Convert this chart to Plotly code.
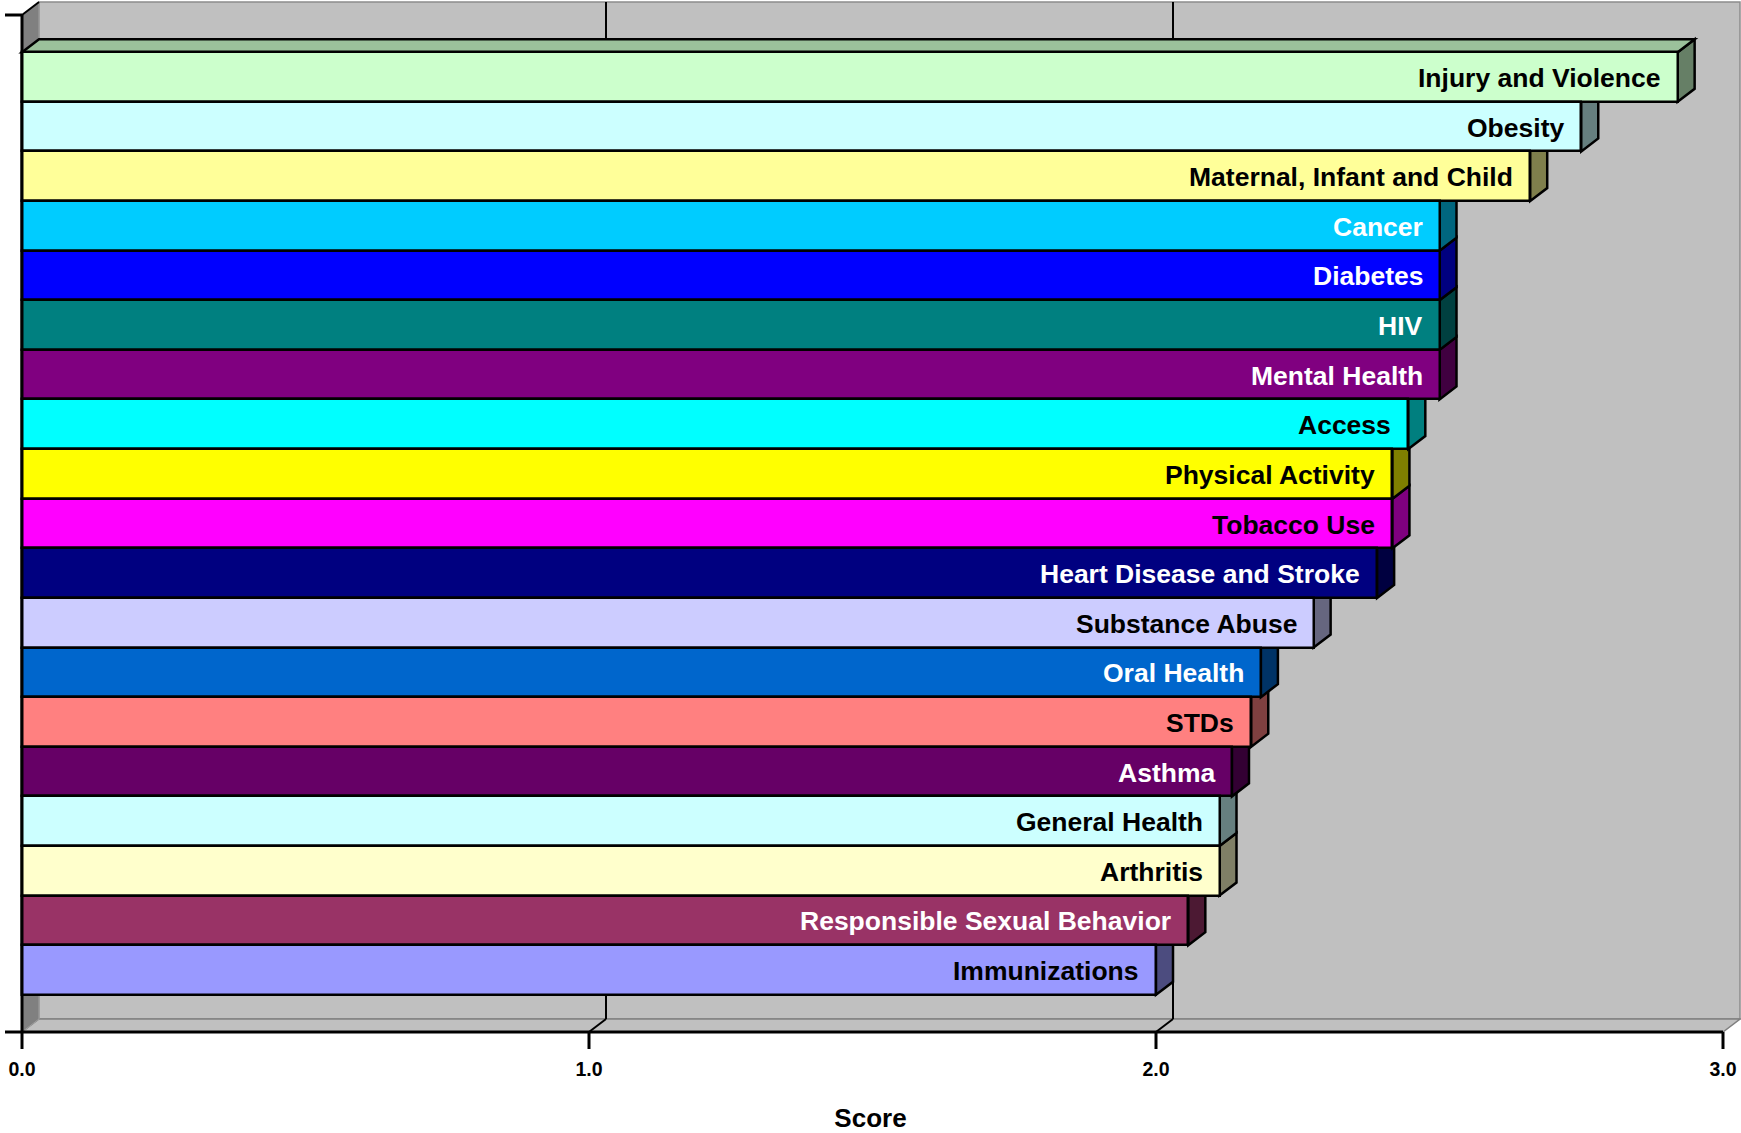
import plotly.graph_objects as go

# ---------------- data ----------------
categories = [
    "Injury and Violence", "Obesity", "Maternal, Infant and Child", "Cancer",
    "Diabetes", "HIV", "Mental Health", "Access", "Physical Activity",
    "Tobacco Use", "Heart Disease and Stroke", "Substance Abuse", "Oral Health",
    "STDs", "Asthma", "General Health", "Arthritis",
    "Responsible Sexual Behavior", "Immunizations",
]
scores = [2.92, 2.75, 2.66, 2.50, 2.50, 2.50, 2.50, 2.445, 2.417, 2.417,
          2.39, 2.278, 2.185, 2.168, 2.134, 2.112, 2.112, 2.057, 2.00]
bar_colors = ["#CCFFCC", "#CCFFFF", "#FFFF99", "#00CCFF", "#0000FF", "#008080",
              "#800080", "#00FFFF", "#FFFF00", "#FF00FF", "#000080", "#CCCCFF",
              "#0066CC", "#FF8080", "#660066", "#CCFFFF", "#FFFFCC", "#993366",
              "#9999FF"]
label_colors = ["black", "black", "black", "white", "white", "white", "white",
                "black", "black", "black", "white", "black", "white", "black",
                "white", "black", "black", "white", "black"]
x_ticks = [0, 1, 2, 3]
x_title = "Score"

# ---------------- geometry / style ----------------
W, H = 1741, 1133
FONT = "Liberation Sans, Arial, sans-serif"
LEFT_PAD, RIGHT_PAD = 22, 18       # px outside the front box
TOP_PAD, BOT_PAD = 15, 18
PLOT_H = 1050
DEPTH_X, DEPTH_Y = 17, 13          # 3-D depth offset in px
XMAX_DATA = 3.0
GAP_UNITS = 0.75                   # empty space above/below bars (category units)

n = len(categories)
ux = (W - LEFT_PAD - RIGHT_PAD) / XMAX_DATA
span_y = n + 2 * GAP_UNITS
uy = (PLOT_H - TOP_PAD - BOT_PAD) / span_y
dxu = DEPTH_X / ux
dyu = DEPTH_Y / uy
y_front_top = -0.5 - GAP_UNITS
y_front_bot = n - 0.5 + GAP_UNITS
x_range = [-LEFT_PAD / ux, XMAX_DATA + RIGHT_PAD / ux]
y_range = [y_front_bot + BOT_PAD / uy, y_front_top - TOP_PAD / uy]


def shade(hexcol, f):
    h = hexcol.lstrip("#")
    r, g, b = (int(h[i:i + 2], 16) for i in (0, 2, 4))
    return "#%02X%02X%02X" % (int(r * f), int(g * f), int(b * f))


def poly(pts):
    return "M " + " L ".join(f"{x},{y}" for x, y in pts) + " Z"


shapes = []
# back wall
shapes.append(dict(type="rect", xref="x", yref="y", layer="below",
                   x0=dxu, x1=XMAX_DATA + dxu, y0=y_front_top - dyu, y1=y_front_bot - dyu,
                   fillcolor="#C0C0C0", line=dict(color="#8C8C8C", width=1.5)))
# floor
shapes.append(dict(type="path", xref="x", yref="y", layer="below",
                   path=poly([(0, y_front_bot), (dxu, y_front_bot - dyu),
                              (XMAX_DATA + dxu, y_front_bot - dyu), (XMAX_DATA, y_front_bot)]),
                   fillcolor="#C0C0C0", line=dict(color="#808080", width=1.5)))
# gridlines on wall and floor
for t in x_ticks[1:-1]:
    shapes.append(dict(type="line", xref="x", yref="y", layer="below",
                       x0=t + dxu, x1=t + dxu, y0=y_front_top - dyu, y1=y_front_bot - dyu,
                       line=dict(color="black", width=2)))
    shapes.append(dict(type="line", xref="x", yref="y", layer="below",
                       x0=t + dxu, x1=t, y0=y_front_bot - dyu, y1=y_front_bot,
                       line=dict(color="black", width=2)))
# left wall
shapes.append(dict(type="path", xref="x", yref="y", layer="below",
                   path=poly([(0, y_front_top), (dxu, y_front_top - dyu),
                              (dxu, y_front_bot - dyu), (0, y_front_bot)]),
                   fillcolor="#808080", line=dict(color="#A0A0A0", width=1)))
shapes.append(dict(type="line", xref="x", yref="y", layer="below",
                   x0=0, x1=dxu, y0=y_front_top, y1=y_front_top - dyu,
                   line=dict(color="black", width=2)))

# side faces of bars (bottom to top) and top face of first bar
for i in range(n - 1, -1, -1):
    v = scores[i]
    shapes.append(dict(type="path", xref="x", yref="y", layer="below",
                       path=poly([(v, i - 0.5), (v + dxu, i - 0.5 - dyu),
                                  (v + dxu, i + 0.5 - dyu), (v, i + 0.5)]),
                       fillcolor=shade(bar_colors[i], 0.5),
                       line=dict(color="black", width=2.5)))
shapes.append(dict(type="path", xref="x", yref="y", layer="below",
                   path=poly([(0, -0.5), (dxu, -0.5 - dyu),
                              (scores[0] + dxu, -0.5 - dyu), (scores[0], -0.5)]),
                   fillcolor=shade(bar_colors[0], 0.76),
                   line=dict(color="black", width=2.5)))

# front axis lines and ticks
shapes.append(dict(type="line", xref="x", yref="y", layer="above",
                   x0=0, x1=0, y0=y_front_top, y1=y_front_bot,
                   line=dict(color="black", width=3)))
shapes.append(dict(type="line", xref="x", yref="y", layer="above",
                   x0=0, x1=XMAX_DATA, y0=y_front_bot, y1=y_front_bot,
                   line=dict(color="black", width=3)))
for yy in (y_front_top, y_front_bot):
    shapes.append(dict(type="line", xref="x", yref="y", layer="above",
                       x0=-17 / ux, x1=0, y0=yy, y1=yy,
                       line=dict(color="black", width=3)))
for t in x_ticks:
    shapes.append(dict(type="line", xref="x", yref="y", layer="above",
                       x0=t, x1=t, y0=y_front_bot, y1=y_front_bot + 17 / uy,
                       line=dict(color="black", width=3)))

fig = go.Figure()
fig.add_trace(go.Bar(
    x=scores, y=list(range(n)), orientation="h", width=1,
    marker=dict(color=bar_colors, line=dict(color="black", width=2.5)),
    hovertext=categories, hoverinfo="text+x", showlegend=False,
))

annotations = []
for i, (lab, v, c) in enumerate(zip(categories, scores, label_colors)):
    annotations.append(dict(x=v, y=i, xref="x", yref="y", text=lab, showarrow=False,
                            xanchor="right", yanchor="middle", xshift=-15, yshift=-1,
                            font=dict(family=FONT, size=26.5, color=c, weight="bold")))

fig.update_layout(
    width=W, height=H,
    margin=dict(l=0, r=0, t=0, b=H - PLOT_H, autoexpand=False),
    paper_bgcolor="white", plot_bgcolor="white",
    shapes=shapes, annotations=annotations,
    bargap=0,
    xaxis=dict(range=x_range, tickvals=x_ticks, tickformat=".1f", ticks="",
               showgrid=False, zeroline=False, showline=False,
               tickfont=dict(family=FONT, size=19.5, color="black", weight="bold"),
               ticklabelstandoff=5,
               title=dict(text=x_title, standoff=30,
                          font=dict(family=FONT, size=26, color="black", weight="bold"))),
    yaxis=dict(range=y_range, showticklabels=False, ticks="", showgrid=False,
               zeroline=False, showline=False),
)

fig.write_html("out.html", config={"displayModeBar": False},
               post_script="document.body.style.margin='0';document.body.style.overflow='hidden';")
